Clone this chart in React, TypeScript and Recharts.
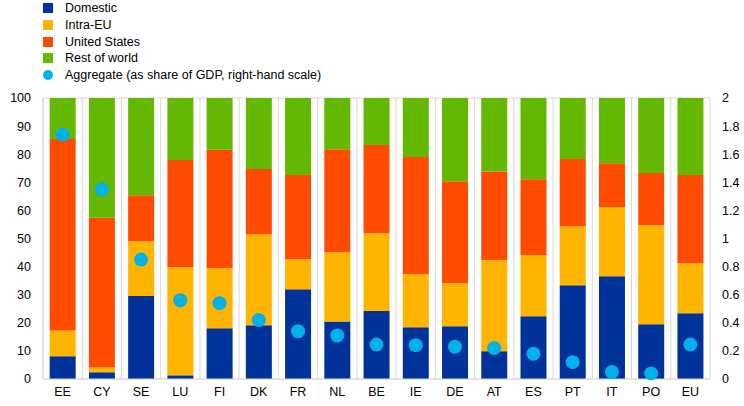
import React from "react";
import {
  ComposedChart,
  Bar,
  Scatter,
  XAxis,
  YAxis,
  CartesianGrid,
} from "recharts";

const categories = ["EE", "CY", "SE", "LU", "FI", "DK", "FR", "NL", "BE", "IE", "DE", "AT", "ES", "PT", "IT", "PO", "EU"];
const domestic = [8.1, 2.4, 29.5, 1.3, 18.1, 19.1, 31.9, 20.5, 24.2, 18.4, 18.8, 9.9, 22.3, 33.4, 36.6, 19.5, 23.4];
const intraEU = [9.2, 1.8, 19.5, 38.5, 21.3, 32.4, 10.7, 24.6, 27.7, 19.0, 15.3, 32.4, 21.8, 21.0, 24.6, 35.3, 17.8];
const unitedStates = [68.1, 53.2, 16.4, 38.1, 42.2, 23.2, 30.0, 36.7, 31.4, 41.6, 36.3, 31.5, 27.0, 23.9, 15.6, 18.5, 31.4];
const restOfWorld = [14.6, 42.6, 34.6, 22.1, 18.4, 25.3, 27.4, 18.2, 16.7, 21.0, 29.6, 26.2, 28.9, 21.7, 23.2, 26.7, 27.4];
const aggregate = [1.74, 1.35, 0.85, 0.56, 0.54, 0.42, 0.34, 0.31, 0.245, 0.24, 0.23, 0.22, 0.18, 0.12, 0.05, 0.04, 0.245];
const leftTicks = [0, 10, 20, 30, 40, 50, 60, 70, 80, 90, 100];
const rightTicks = [0, 0.2, 0.4, 0.6, 0.8, 1, 1.2, 1.4, 1.6, 1.8, 2];

const COLORS = {
  domestic: "#003299",
  intraEU: "#FFB400",
  us: "#FF4B00",
  row: "#65B800",
  agg: "#00B1EA",
};

const legendItems = [
  { label: "Domestic", color: COLORS.domestic, type: "square" },
  { label: "Intra-EU", color: COLORS.intraEU, type: "square" },
  { label: "United States", color: COLORS.us, type: "square" },
  { label: "Rest of world", color: COLORS.row, type: "square" },
  { label: "Aggregate (as share of GDP, right-hand scale)", color: COLORS.agg, type: "circle" },
];

const data = categories.map((c, i) => ({
  name: c,
  domestic: domestic[i],
  intraEU: intraEU[i],
  us: unitedStates[i],
  row: restOfWorld[i],
  agg: aggregate[i],
}));

const FONT = "Arial, 'Liberation Sans', sans-serif";

const LegendBlock = () => (
  <div
    style={{
      position: "absolute",
      left: 0,
      top: 0,
      fontFamily: FONT,
      fontSize: 12.5,
      color: "#000",
      zIndex: 2,
    }}
  >
    {legendItems.map((it) => (
      <div key={it.label} style={{ display: "flex", alignItems: "center", height: 16.7 }}>
        <span
          style={{
            display: "inline-block",
            width: 10,
            height: 10,
            background: it.color,
            borderRadius: it.type === "circle" ? "50%" : 0,
            marginLeft: 43,
            marginRight: 12,
          }}
        />
        <span>{it.label}</span>
      </div>
    ))}
  </div>
);

const Dot = (props: any) => {
  const { cx, cy } = props;
  if (cx == null || cy == null) return null;
  return <circle cx={cx} cy={cy} r={7} fill={COLORS.agg} />;
};

const fmtRight = (v: number) => String(Math.round(v * 10) / 10);

export default function App() {
  return (
    <div style={{ position: "absolute", left: 0, top: 0, width: 744, height: 406, background: "#fff" }}>
      <LegendBlock />
      <ComposedChart
        width={744}
        height={406}
        data={data}
        margin={{ top: 98, right: 0, bottom: 0, left: 0 }}
        barCategoryGap="17%"
      >
        <CartesianGrid
          stroke="#d9d9d9"
          vertical={true}
          horizontal={true}
          verticalCoordinatesGenerator={({ offset }: any) =>
            categories.map((_, i) => offset.left + (i * offset.width) / categories.length).concat([offset.left + offset.width])
          }
        />
        <XAxis
          dataKey="name"
          height={27}
          tickLine={false}
          axisLine={{ stroke: "#d9d9d9" }}
          tick={{ fill: "#000", fontSize: 12.5, fontFamily: FONT }}
          interval={0}
        />
        <YAxis
          yAxisId="left"
          width={43}
          domain={[0, 100]}
          ticks={leftTicks}
          tickLine={false}
          axisLine={{ stroke: "#d9d9d9" }}
          tick={{ fill: "#000", fontSize: 12.5, fontFamily: FONT, dx: -4 }}
          interval={0}
        />
        <YAxis
          yAxisId="right"
          orientation="right"
          width={34}
          domain={[0, 2]}
          ticks={rightTicks}
          tickFormatter={fmtRight}
          tickLine={false}
          axisLine={false}
          tick={{ fill: "#000", fontSize: 12.5, fontFamily: FONT, dx: 4 }}
          interval={0}
        />
        <Bar yAxisId="left" dataKey="domestic" stackId="s" fill={COLORS.domestic} isAnimationActive={false} />
        <Bar yAxisId="left" dataKey="intraEU" stackId="s" fill={COLORS.intraEU} isAnimationActive={false} />
        <Bar yAxisId="left" dataKey="us" stackId="s" fill={COLORS.us} isAnimationActive={false} />
        <Bar yAxisId="left" dataKey="row" stackId="s" fill={COLORS.row} isAnimationActive={false} />
        <Scatter yAxisId="right" dataKey="agg" fill={COLORS.agg} shape={<Dot />} isAnimationActive={false} />
      </ComposedChart>
    </div>
  );
}
